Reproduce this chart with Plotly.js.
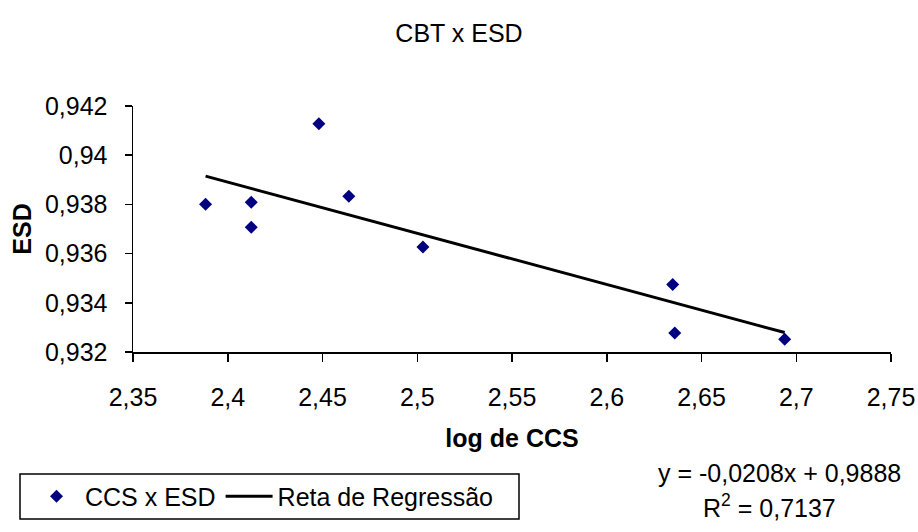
<!DOCTYPE html>
<html>
<head>
<meta charset="utf-8">
<script src="https://cdn.plot.ly/plotly-3.0.1.min.js"></script>
<style>html,body{margin:0;padding:0;background:#fff;}#chart{width:918px;height:532px;}</style>
</head>
<body>
<div id="chart"></div>
<script>
// Data
const logCCS = [2.3883, 2.4124, 2.4124, 2.4481, 2.4639, 2.5030, 2.6348, 2.6359, 2.6939];
const esd    = [0.93801, 0.93809, 0.93707, 0.94128, 0.93833, 0.93627, 0.93474, 0.93277, 0.93252];
const regX   = [2.3883, 2.6939];
const regY   = [0.93915, 0.93279];
const xTicks = [2.35, 2.4, 2.45, 2.5, 2.55, 2.6, 2.65, 2.7, 2.75];
const yTicks = [0.932, 0.934, 0.936, 0.938, 0.94, 0.942];
const equationText = "y = -0,0208x + 0,9888";
const r2Text = "R<sup>2</sup> = 0,7137";

const FONT = "Liberation Sans, Arial, sans-serif";
const FS = 25;

// pixel helpers for paper coordinates (plot area: x 133..891, y 106..358)
const L = 133, W = 758, B = 358, H = 252;
const px = v => (v - L) / W;
const py = v => (B - v) / H;

const traces = [
  {
    x: logCCS, y: esd, type: "scatter", mode: "markers", name: "CCS x ESD",
    marker: {symbol: "diamond", size: 10, color: "#000080"}
  },
  {
    x: regX, y: regY, type: "scatter", mode: "lines", name: "Reta de Regressão",
    line: {color: "#000000", width: 3}
  }
];

const layout = {
  width: 918, height: 532,
  paper_bgcolor: "#ffffff", plot_bgcolor: "#ffffff",
  separators: ",.",
  font: {family: FONT, size: FS, color: "#000000"},
  margin: {l: 133, r: 27, t: 106, b: 174, pad: 0},
  title: {text: "CBT x ESD", x: 0.5, xref: "container", y: 1 - 33/532, yref: "container",
          yanchor: "middle", xanchor: "center", font: {family: FONT, size: FS, color: "#000"}},
  xaxis: {
    range: [2.35, 2.75], tickvals: xTicks, showgrid: false, zeroline: false,
    showline: true, linecolor: "#000", linewidth: 1.5,
    ticks: "outside", ticklen: 8, tickwidth: 1.5, tickcolor: "#000",
    ticklabelstandoff: 14,
    tickfont: {family: FONT, size: FS},
    title: {text: "<b>log de CCS</b>", font: {family: FONT, size: FS}, standoff: 20}
  },
  yaxis: {
    range: [0.932, 0.942], tickvals: yTicks, showgrid: false, zeroline: false,
    showline: true, linecolor: "#000", linewidth: 1.5,
    ticks: "outside", ticklen: 7, tickwidth: 1.5, tickcolor: "#000",
    ticklabelstandoff: 12,
    tickfont: {family: FONT, size: FS},
    title: {text: "<b>ESD</b>", font: {family: FONT, size: FS}, standoff: 6}
  },
  showlegend: true,
  legend: {
    orientation: "h", x: px(28), xanchor: "left",
    y: py(506), yanchor: "middle",
    borderwidth: 0, bgcolor: "rgba(0,0,0,0)",
    itemwidth: 47,
    font: {family: FONT, size: FS, color: "#000"}
  },
  shapes: [
    {type: "rect", xref: "paper", yref: "paper",
     x0: px(20), x1: px(519), y0: py(483), y1: py(529),
     line: {color: "#000", width: 1.5}, fillcolor: "rgba(0,0,0,0)"}
  ],
  annotations: [
    {text: equationText, xref: "paper", yref: "paper",
     x: px(779), y: py(482), xanchor: "center", yanchor: "middle",
     showarrow: false, font: {family: FONT, size: FS, color: "#000"}},
    {text: r2Text, xref: "paper", yref: "paper",
     x: px(769), y: py(516), xanchor: "center", yanchor: "middle",
     showarrow: false, font: {family: FONT, size: FS, color: "#000"}}
  ]
};

Plotly.newPlot("chart", traces, layout, {displayModeBar: false, staticPlot: true});
</script>
</body>
</html>
